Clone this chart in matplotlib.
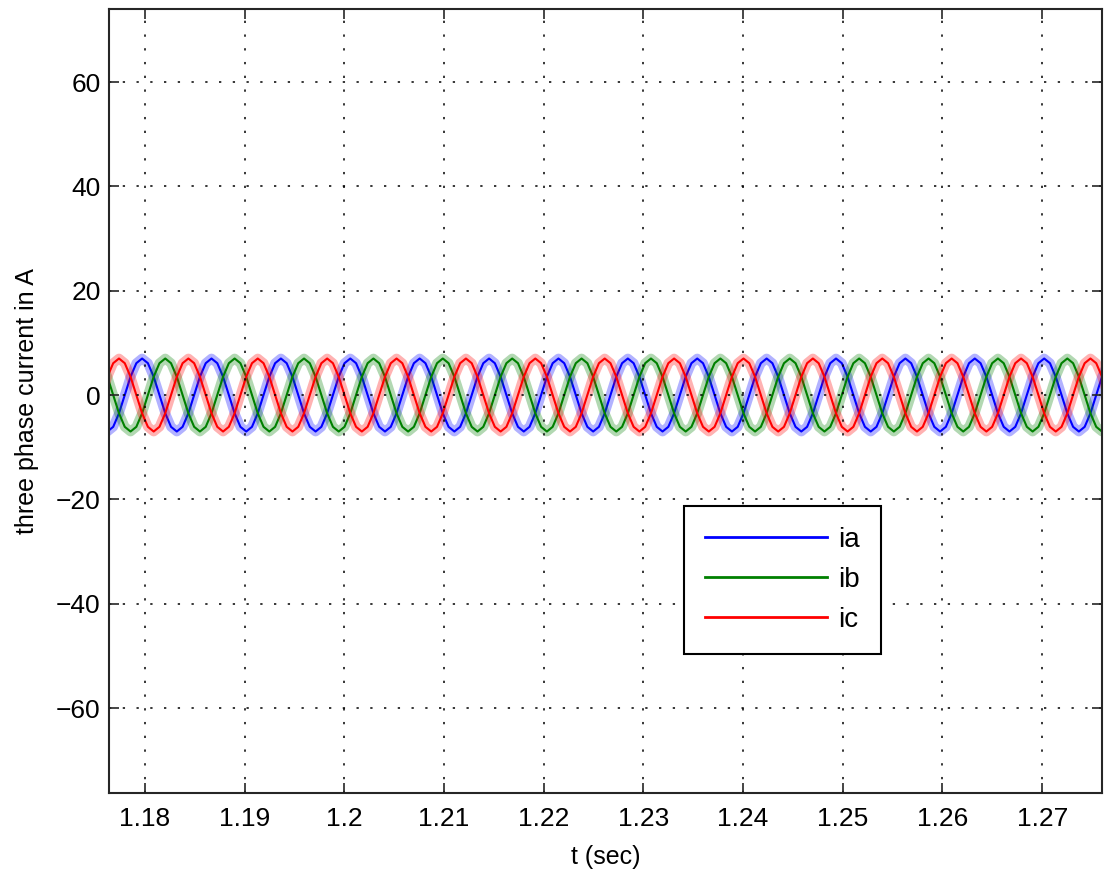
import matplotlib
matplotlib.use('Agg')
import matplotlib.pyplot as plt

plt.rcParams['font.family'] = ['Liberation Sans', 'DejaVu Sans']

# =============================================
# DATA (30 deg steps)
# =============================================
t = [
    1.17566, 1.17624, 1.17682, 1.17740, 1.17798, 1.17856, 1.17914, 1.17972, 1.18030, 1.18088, 1.18146, 1.18204,
    1.18262, 1.18320, 1.18378, 1.18436, 1.18494, 1.18552, 1.18610, 1.18668, 1.18726, 1.18784, 1.18842, 1.18900,
    1.18958, 1.19016, 1.19074, 1.19132, 1.19190, 1.19248, 1.19306, 1.19364, 1.19422, 1.19480, 1.19538, 1.19596,
    1.19654, 1.19712, 1.19770, 1.19828, 1.19886, 1.19944, 1.20002, 1.20060, 1.20118, 1.20176, 1.20234, 1.20292,
    1.20350, 1.20408, 1.20466, 1.20524, 1.20582, 1.20640, 1.20698, 1.20756, 1.20814, 1.20872, 1.20930, 1.20988,
    1.21046, 1.21104, 1.21162, 1.21220, 1.21278, 1.21336, 1.21394, 1.21452, 1.21510, 1.21568, 1.21626, 1.21684,
    1.21742, 1.21800, 1.21858, 1.21916, 1.21974, 1.22032, 1.22090, 1.22148, 1.22206, 1.22264, 1.22322, 1.22380,
    1.22438, 1.22496, 1.22554, 1.22612, 1.22670, 1.22728, 1.22786, 1.22844, 1.22902, 1.22960, 1.23018, 1.23076,
    1.23134, 1.23192, 1.23250, 1.23308, 1.23366, 1.23424, 1.23482, 1.23540, 1.23598, 1.23656, 1.23714, 1.23772,
    1.23830, 1.23888, 1.23946, 1.24004, 1.24062, 1.24120, 1.24178, 1.24236, 1.24294, 1.24352, 1.24410, 1.24468,
    1.24526, 1.24584, 1.24642, 1.24700, 1.24758, 1.24816, 1.24874, 1.24932, 1.24990, 1.25048, 1.25106, 1.25164,
    1.25222, 1.25280, 1.25338, 1.25396, 1.25454, 1.25512, 1.25570, 1.25628, 1.25686, 1.25744, 1.25802, 1.25860,
    1.25918, 1.25976, 1.26034, 1.26092, 1.26150, 1.26208, 1.26266, 1.26324, 1.26382, 1.26440, 1.26498, 1.26556,
    1.26614, 1.26672, 1.26730, 1.26788, 1.26846, 1.26904, 1.26962, 1.27020, 1.27078, 1.27136, 1.27194, 1.27252,
    1.27310, 1.27368, 1.27426, 1.27484, 1.27542, 1.27600, 1.27658,
]

ia = [
    -6.1, -7, -6.1, -3.5, 0, 3.5, 6.1, 7, 6.1, 3.5, 0, -3.5,
    -6.1, -7, -6.1, -3.5, 0, 3.5, 6.1, 7, 6.1, 3.5, 0, -3.5,
    -6.1, -7, -6.1, -3.5, 0, 3.5, 6.1, 7, 6.1, 3.5, 0, -3.5,
    -6.1, -7, -6.1, -3.5, 0, 3.5, 6.1, 7, 6.1, 3.5, 0, -3.5,
    -6.1, -7, -6.1, -3.5, 0, 3.5, 6.1, 7, 6.1, 3.5, 0, -3.5,
    -6.1, -7, -6.1, -3.5, 0, 3.5, 6.1, 7, 6.1, 3.5, 0, -3.5,
    -6.1, -7, -6.1, -3.5, 0, 3.5, 6.1, 7, 6.1, 3.5, 0, -3.5,
    -6.1, -7, -6.1, -3.5, 0, 3.5, 6.1, 7, 6.1, 3.5, 0, -3.5,
    -6.1, -7, -6.1, -3.5, 0, 3.5, 6.1, 7, 6.1, 3.5, 0, -3.5,
    -6.1, -7, -6.1, -3.5, 0, 3.5, 6.1, 7, 6.1, 3.5, 0, -3.5,
    -6.1, -7, -6.1, -3.5, 0, 3.5, 6.1, 7, 6.1, 3.5, 0, -3.5,
    -6.1, -7, -6.1, -3.5, 0, 3.5, 6.1, 7, 6.1, 3.5, 0, -3.5,
    -6.1, -7, -6.1, -3.5, 0, 3.5, 6.1, 7, 6.1, 3.5, 0, -3.5,
    -6.1, -7, -6.1, -3.5, 0, 3.5, 6.1, 7, 6.1, 3.5, 0, -3.5,
    -6.1, -7, -6.1, -3.5, 0, 3.5, 6.1,
]

ib = [
    6.1, 3.5, 0, -3.5, -6.1, -7, -6.1, -3.5, 0, 3.5, 6.1, 7,
    6.1, 3.5, 0, -3.5, -6.1, -7, -6.1, -3.5, 0, 3.5, 6.1, 7,
    6.1, 3.5, 0, -3.5, -6.1, -7, -6.1, -3.5, 0, 3.5, 6.1, 7,
    6.1, 3.5, 0, -3.5, -6.1, -7, -6.1, -3.5, 0, 3.5, 6.1, 7,
    6.1, 3.5, 0, -3.5, -6.1, -7, -6.1, -3.5, 0, 3.5, 6.1, 7,
    6.1, 3.5, 0, -3.5, -6.1, -7, -6.1, -3.5, 0, 3.5, 6.1, 7,
    6.1, 3.5, 0, -3.5, -6.1, -7, -6.1, -3.5, 0, 3.5, 6.1, 7,
    6.1, 3.5, 0, -3.5, -6.1, -7, -6.1, -3.5, 0, 3.5, 6.1, 7,
    6.1, 3.5, 0, -3.5, -6.1, -7, -6.1, -3.5, 0, 3.5, 6.1, 7,
    6.1, 3.5, 0, -3.5, -6.1, -7, -6.1, -3.5, 0, 3.5, 6.1, 7,
    6.1, 3.5, 0, -3.5, -6.1, -7, -6.1, -3.5, 0, 3.5, 6.1, 7,
    6.1, 3.5, 0, -3.5, -6.1, -7, -6.1, -3.5, 0, 3.5, 6.1, 7,
    6.1, 3.5, 0, -3.5, -6.1, -7, -6.1, -3.5, 0, 3.5, 6.1, 7,
    6.1, 3.5, 0, -3.5, -6.1, -7, -6.1, -3.5, 0, 3.5, 6.1, 7,
    6.1, 3.5, 0, -3.5, -6.1, -7, -6.1,
]

ic = [
    0, 3.5, 6.1, 7, 6.1, 3.5, 0, -3.5, -6.1, -7, -6.1, -3.5,
    0, 3.5, 6.1, 7, 6.1, 3.5, 0, -3.5, -6.1, -7, -6.1, -3.5,
    0, 3.5, 6.1, 7, 6.1, 3.5, 0, -3.5, -6.1, -7, -6.1, -3.5,
    0, 3.5, 6.1, 7, 6.1, 3.5, 0, -3.5, -6.1, -7, -6.1, -3.5,
    0, 3.5, 6.1, 7, 6.1, 3.5, 0, -3.5, -6.1, -7, -6.1, -3.5,
    0, 3.5, 6.1, 7, 6.1, 3.5, 0, -3.5, -6.1, -7, -6.1, -3.5,
    0, 3.5, 6.1, 7, 6.1, 3.5, 0, -3.5, -6.1, -7, -6.1, -3.5,
    0, 3.5, 6.1, 7, 6.1, 3.5, 0, -3.5, -6.1, -7, -6.1, -3.5,
    0, 3.5, 6.1, 7, 6.1, 3.5, 0, -3.5, -6.1, -7, -6.1, -3.5,
    0, 3.5, 6.1, 7, 6.1, 3.5, 0, -3.5, -6.1, -7, -6.1, -3.5,
    0, 3.5, 6.1, 7, 6.1, 3.5, 0, -3.5, -6.1, -7, -6.1, -3.5,
    0, 3.5, 6.1, 7, 6.1, 3.5, 0, -3.5, -6.1, -7, -6.1, -3.5,
    0, 3.5, 6.1, 7, 6.1, 3.5, 0, -3.5, -6.1, -7, -6.1, -3.5,
    0, 3.5, 6.1, 7, 6.1, 3.5, 0, -3.5, -6.1, -7, -6.1, -3.5,
    0, 3.5, 6.1, 7, 6.1, 3.5, 0,
]

xticks = [1.18, 1.19, 1.20, 1.21, 1.22, 1.23, 1.24, 1.25, 1.26, 1.27]
xticklabels = ['1.18', '1.19', '1.2', '1.21', '1.22', '1.23', '1.24', '1.25', '1.26', '1.27']
yticks = [-60, -40, -20, 0, 20, 40, 60]
labels = ['ia', 'ib', 'ic']
colors = ['#0000ff', '#008000', '#ff0000']

# =============================================
# PLOT
# =============================================
fig = plt.figure(figsize=(11.09, 8.73), dpi=100)
ax = fig.add_axes([0.0983, 0.0916, 0.8954, 0.8981])

for y, c, lab in zip([ia, ib, ic], colors, labels):
    # wide pale band for the switching ripple, thin core on top
    ax.plot(t, y, color=c, lw=7, alpha=0.3, solid_joinstyle='round')
    ax.plot(t, y, color=c, lw=1.5, label=lab)

ax.set_xlim(1.1764, 1.2760)
ax.set_ylim(-76.3, 74)
ax.set_xticks(xticks)
ax.set_xticklabels(xticklabels)
ax.set_yticks(yticks)

ax.grid(True, color='black', lw=1.1, linestyle=(0, (1.5, 7.5)))
ax.set_axisbelow(False)

ax.tick_params(direction='in', length=7, width=1.2, top=True, right=True,
               labelsize=19, color='#262626')
ax.tick_params(axis='x', pad=10)
ax.tick_params(axis='y', pad=6)
for s in ax.spines.values():
    s.set_linewidth(1.5)
    s.set_color('#262626')

ax.set_xlabel('t (sec)', fontsize=18, labelpad=10)
ax.set_ylabel('three phase current in A', fontsize=18, labelpad=12)

leg = ax.legend(loc='upper left', bbox_to_anchor=(0.579, 0.366), borderaxespad=0,
                fontsize=20, handlelength=4.4, handletextpad=0.4, labelspacing=0.5,
                borderpad=0.75, fancybox=False, framealpha=1, edgecolor='black')
leg.get_frame().set_linewidth(1.5)
for line in leg.get_lines():
    line.set_linewidth(2.0)

plt.savefig('out.png', dpi=100, facecolor='white')
